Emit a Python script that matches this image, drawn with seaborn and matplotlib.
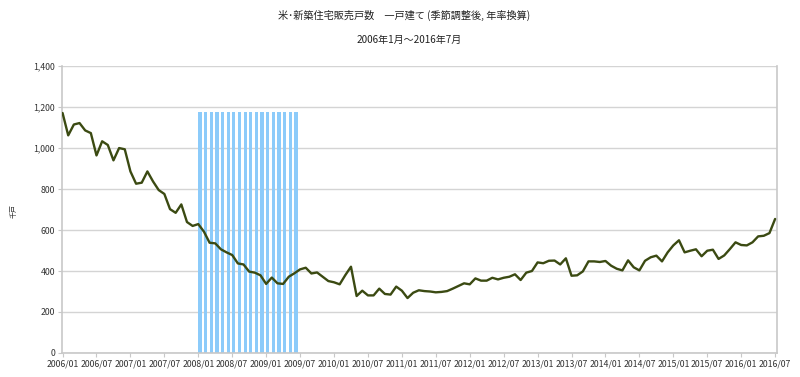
import numpy as np
import pandas as pd
import matplotlib
matplotlib.use("Agg")
import matplotlib.pyplot as plt
import seaborn as sns
from matplotlib.ticker import FuncFormatter

# US new single-family home sales (thousands, SAAR), 2006/01 - 2016/07
sales_2006 = [1171, 1062, 1115, 1122, 1086, 1073, 964, 1033, 1015, 940, 1000, 994]
sales_2007 = [886, 826, 831, 886, 837, 795, 776, 702, 684, 725, 639, 620]
sales_2008 = [629, 592, 538, 535, 506, 491, 478, 437, 432, 397, 392, 379]
sales_2009 = [337, 368, 340, 337, 372, 389, 408, 416, 388, 393, 372, 351]
sales_2010 = [345, 335, 380, 421, 278, 304, 281, 281, 314, 288, 285, 324]
sales_2011 = [304, 268, 294, 306, 302, 300, 296, 298, 302, 314, 327, 340]
sales_2012 = [335, 364, 353, 353, 367, 359, 367, 372, 384, 356, 392, 400]
sales_2013 = [442, 438, 450, 451, 432, 462, 377, 379, 398, 447, 447, 444]
sales_2014 = [449, 426, 411, 403, 452, 418, 403, 450, 467, 475, 447, 491]
sales_2015 = [525, 550, 491, 499, 506, 472, 499, 504, 459, 476, 507, 540]
sales_2016 = [527, 525, 540, 569, 572, 585, 654]

# recession shading: 2008/01 - 2009/06
recession_start = "2008-01"
recession_end = "2009-06"
recession_height = 1175

sales = (sales_2006 + sales_2007 + sales_2008 + sales_2009 + sales_2010 + sales_2011
         + sales_2012 + sales_2013 + sales_2014 + sales_2015 + sales_2016)
months = pd.date_range("2006-01", periods=len(sales), freq="MS")
month_idx = np.arange(len(sales))
df = pd.DataFrame({"idx": month_idx, "sales": sales})

rec_mask = (months >= pd.Timestamp(recession_start)) & (months <= pd.Timestamp(recession_end))
rec_idx = month_idx[rec_mask]

sns.set_theme(style="white")
plt.rcParams["font.family"] = ["Noto Sans CJK JP", "DejaVu Sans"]

fig = plt.figure(figsize=(8, 3.77), dpi=100)
ax = fig.add_axes([0.0775, 0.0637, 0.8935, 0.761])

ax.bar(rec_idx, [recession_height] * len(rec_idx), width=0.58, align="edge",
       color="#8CCBFA", linewidth=0, zorder=2)
sns.lineplot(data=df, x="idx", y="sales", ax=ax, color="#3B4A12", linewidth=1.7, zorder=3)

ax.set_xlim(-0.1, 126.3)
ax.set_ylim(0, 1400)
ax.set_yticks(np.arange(0, 1401, 200))
ax.yaxis.set_major_formatter(FuncFormatter(lambda v, p: f"{int(v):,}"))
tick_pos = month_idx[::6]
ax.set_xticks(tick_pos)
ax.set_xticklabels([m.strftime("%Y/%m") for m in months[::6]])

ax.grid(axis="y", color="#D4D4D4", linewidth=1.0, zorder=0)
ax.set_axisbelow(True)
for side in ["left", "bottom", "right"]:
    ax.spines[side].set_color("#C8C8C8")
    ax.spines[side].set_linewidth(1.2)
ax.spines["top"].set_visible(False)
ax.tick_params(axis="both", which="major", length=3, width=0.8, color="#C8C8C8",
               labelsize=6.3, labelcolor="#333333", pad=2)
ax.tick_params(axis="x", bottom=True)
ax.tick_params(axis="y", left=True)

ax.set_xlabel("")
ax.set_ylabel("")
fig.text(0.017, 0.44, "千戸", rotation=90, fontsize=5, ha="center", va="center", color="#333333")

fig.text(0.505, 0.958, "米･新築住宅販売戸数　一戸建て (季節調整後, 年率換算)", fontsize=7.3,
         ha="center", va="center", color="#222222")
fig.text(0.511, 0.894, "2006年1月～2016年7月", fontsize=7.2, ha="center", va="center", color="#222222")

fig.savefig("out.png", dpi=100)
